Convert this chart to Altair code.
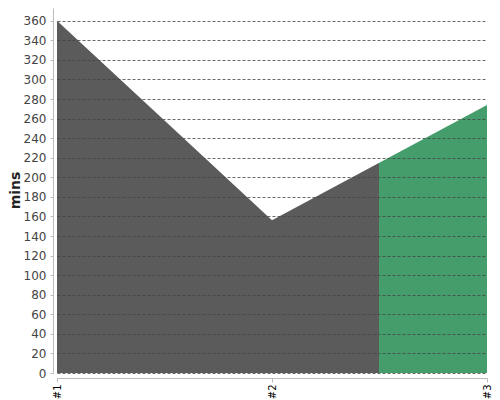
import altair as alt
import pandas as pd

categories = [1, 2, 3]
labels = ["#1", "#2", "#3"]
values = [360, 156, 274]

df = pd.DataFrame({"x": categories, "mins": values})

gray = "#5b5b5b"
green = "#459d6b"

fill = alt.Gradient(
    gradient="linear",
    x1=0, x2=1, y1=0, y2=0,
    stops=[
        alt.GradientStop(offset=0, color=gray),
        alt.GradientStop(offset=0.75, color=gray),
        alt.GradientStop(offset=0.75, color=green),
        alt.GradientStop(offset=1, color=green),
    ],
)

label_expr = "'#' + datum.value"

chart = (
    alt.Chart(df)
    .mark_area(fill=fill, interpolate="linear")
    .encode(
        x=alt.X(
            "x:Q",
            scale=alt.Scale(domain=[1, 3], nice=False, zero=False),
            axis=alt.Axis(
                values=categories,
                labelExpr=label_expr,
                labelAngle=-90,
                labelAlign="right",
                labelBaseline="middle",
                labelFontSize=10,
                labelColor="#000",
                labelFont="DejaVu Sans",
                domainColor="#bbbbbb",
                tickColor="#bbbbbb",
                tickSize=4,
                offset=5,
                grid=False,
                title=None,
            ),
        ),
        y=alt.Y(
            "mins:Q",
            scale=alt.Scale(domain=[0, 373], nice=False),
            axis=alt.Axis(
                values=list(range(20, 361, 20)) + [0],
                labelFontSize=12,
                labelColor="#444444",
                labelFont="DejaVu Sans",
                domainColor="#bbbbbb",
                tickColor="#bbbbbb",
                tickSize=3,
                offset=4,
                labelPadding=4,
                gridColor="#444444",
                gridDash=[3, 2],
                gridOpacity=0.8,
                gridWidth=1,
                zindex=1,
                title="mins",
                titleFontSize=14,
                titleFont="DejaVu Sans",
                titleColor="#222222",
                titleFontWeight=600,
                titleX=-38,
                titleY=182,
                titleAlign="center",
                titleBaseline="middle",
                titleAngle=-90,
            ),
        ),
    )
    .properties(
        width=430,
        height=365,
        autosize=alt.AutoSizeParams(type="none"),
        padding={"left": 49, "top": 0, "right": 5, "bottom": 27},
    )
    .configure_view(stroke=None)
)

chart.save("out.html", embed_options={"renderer": "svg", "actions": False})
